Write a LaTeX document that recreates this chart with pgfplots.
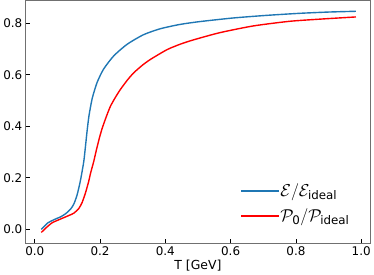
\documentclass[border=0pt]{standalone}
\usepackage{amsmath}
\usepackage{pgfplots}
\pgfplotsset{compat=1.18}
\usepackage{fontspec}
\setmainfont{DejaVu Sans}
\definecolor{mplblue}{HTML}{1F77B4}
\definecolor{mplred}{HTML}{FF0000}
\definecolor{spine}{HTML}{707070}
\begin{document}
\begin{tikzpicture}
\begin{axis}[
  scale only axis,
  width=346pt, height=244pt,
  xmin=-0.0274, xmax=1.0274,
  ymin=-0.054, ymax=0.888,
  axis line style={spine, line width=0.9pt},
  tick style={black, line width=0.7pt},
  tick align=inside,
  major tick length=4.5pt,
  xtick={0,0.2,0.4,0.6,0.8,1.0},
  ytick={0,0.2,0.4,0.6,0.8},
  xtick pos=bottom, ytick pos=left,
  minor tick num=0,
  font=\fontsize{12.5pt}{15pt}\selectfont,
  ticklabel style={font=\fontsize{12pt}{14pt}\selectfont},
  /pgf/number format/assume math mode=true,
  /pgf/number format/.cd, fixed, fixed zerofill, precision=1,
  /pgfplots/.cd,
  xticklabel style={yshift=0pt},
  yticklabel style={xshift=0pt},
  xlabel={T [GeV]},
  xlabel style={yshift=3pt},
  legend style={draw=none, fill=none, at={(0.955,0.165)}, anchor=east,
    font=\fontsize{17pt}{19pt}\selectfont, row sep=6.8pt,
    nodes={inner sep=2pt}},
  legend cell align=left,
]
\addlegendimage{legend image code/.code={\fill[mplblue] (0pt,-0.8pt) rectangle (37pt,0.8pt);}}
\addlegendentry{$\mathcal{E}/\mathcal{E}_{\text{ideal}}$}
\addlegendimage{legend image code/.code={\fill[mplred] (0pt,-0.8pt) rectangle (37pt,0.8pt);}}
\addlegendentry{$\mathcal{P}_{\text{0}}/\mathcal{P}_{\text{ideal}}$}
\addplot[mplblue, line width=1.4pt, smooth, tension=0.4, forget plot] coordinates {
(0.020,0.000) (0.040,0.025) (0.060,0.038) (0.080,0.049) (0.095,0.061)
(0.110,0.079) (0.120,0.099) (0.130,0.135) (0.140,0.190) (0.150,0.262)
(0.155,0.318) (0.160,0.378) (0.166,0.440) (0.176,0.508) (0.191,0.570)
(0.211,0.622) (0.242,0.673) (0.283,0.718) (0.333,0.755) (0.384,0.778)
(0.445,0.795) (0.506,0.806) (0.608,0.820) (0.709,0.830) (0.811,0.838)
(0.900,0.843) (0.984,0.846)
};
\addplot[mplred, line width=1.4pt, smooth, tension=0.4, forget plot] coordinates {
(0.020,-0.012) (0.040,0.012) (0.054,0.026) (0.079,0.040) (0.105,0.054)
(0.120,0.063) (0.135,0.081) (0.145,0.104) (0.155,0.140) (0.165,0.185)
(0.171,0.218) (0.181,0.265) (0.186,0.293) (0.196,0.345) (0.206,0.390)
(0.220,0.440) (0.232,0.478) (0.247,0.512) (0.262,0.542) (0.283,0.578)
(0.303,0.607) (0.330,0.637) (0.354,0.659) (0.405,0.697) (0.445,0.718)
(0.486,0.735) (0.567,0.763) (0.669,0.789) (0.780,0.807) (0.880,0.816)
(0.984,0.824)
};
\end{axis}
\end{tikzpicture}
\end{document}
